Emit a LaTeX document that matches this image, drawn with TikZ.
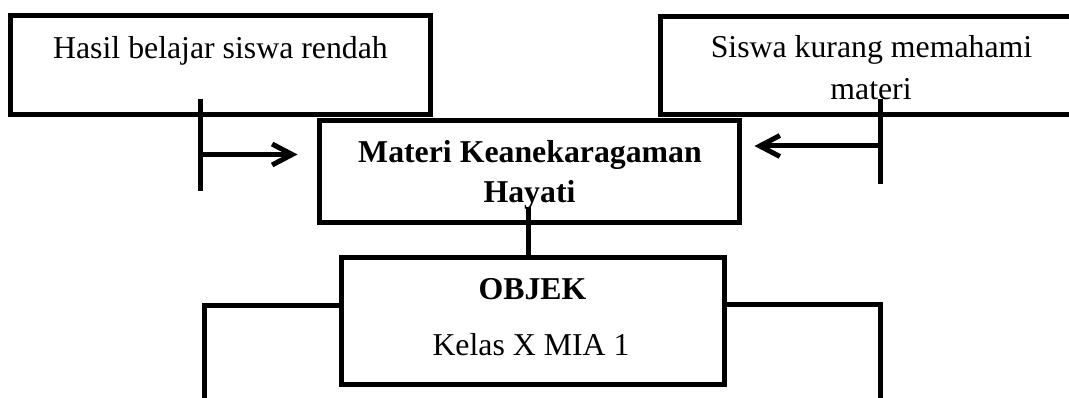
\documentclass[tikz,border=0pt]{standalone}
\usepackage{fontspec}
\setmainfont{Liberation Serif}
\usetikzlibrary{arrows.meta}

\tikzset{
  box/.style={draw=black, line width=5pt, rectangle, inner sep=0pt, fill=white},
  txt/.style={anchor=base, inner sep=0pt, font=\fontsize{31.8pt}{38pt}\selectfont},
  btxt/.style={txt, font=\fontsize{31.8pt}{38pt}\selectfont\bfseries},
  link/.style={draw=black, line width=5pt},
  arr/.style={link, -{Straight Barb[length=20pt,width=21pt]}},
}

\begin{document}
\begin{tikzpicture}[x=1pt,y=-1pt]
  \useasboundingbox (0,0) rectangle (1069,398);
  \clip (0,0) rectangle (1069,398);

  % boxes
  \node[box, minimum width=420pt, minimum height=99pt]    (hasil)  at (220.5,65) {};
  \node[box, minimum width=421pt, minimum height=98pt]    (siswa)  at (871,65.5) {};
  \node[box, minimum width=420pt, minimum height=102pt]   (materi) at (529.5,171.5) {};
  \node[box, minimum width=383.5pt, minimum height=126.5pt] (objek) at (532.75,321.25) {};

  % texts
  \node[txt]  (hasilT)   at (220.5,58.3) {Hasil belajar siswa rendah};
  \node[txt]  (siswaT1)  at (871.5,58)   {Siswa kurang memahami};
  \node[txt]  (siswaT2)  at (871,100)    {materi};
  \node[btxt] (materiT1) at (530,163)    {Materi Keanekaragaman};
  \node[btxt] (materiT2) at (529.5,203)  {Hayati};
  \node[btxt] (objekT1)  at (532.5,300)  {OBJEK};
  \node[txt]  (objekT2)  at (531,355)    {Kelas X MIA 1};

  % left input bracket
  \coordinate (lTop) at (200.5,99);
  \coordinate (lBot) at (200.5,191);
  \coordinate (lMid) at (200.5,154.5);
  \draw[link] (lTop) -- (lBot);
  \draw[arr, shorten >=19.5pt] (lMid) -- (materi.west |- lMid);

  % right input bracket
  \coordinate (rTop) at (880.5,99);
  \coordinate (rBot) at (880.5,184);
  \coordinate (rMid) at (880.5,146);
  \draw[link] (rTop) -- (rBot);
  \draw[arr, shorten >=12.5pt] (rMid) -- (materi.east |- rMid);

  % link between centre boxes
  \coordinate (mStart) at (528,207);
  \draw[link] (mStart) -- (objek.north -| mStart);

  % outgoing branches
  \coordinate (lOut) at (204.5,402);
  \coordinate (rOut) at (880.5,402);
  \draw[link] (objek.west |- 0,305.5) -| (lOut);
  \draw[link] (objek.east |- 0,304.5) -| (rOut);
\end{tikzpicture}
\end{document}
